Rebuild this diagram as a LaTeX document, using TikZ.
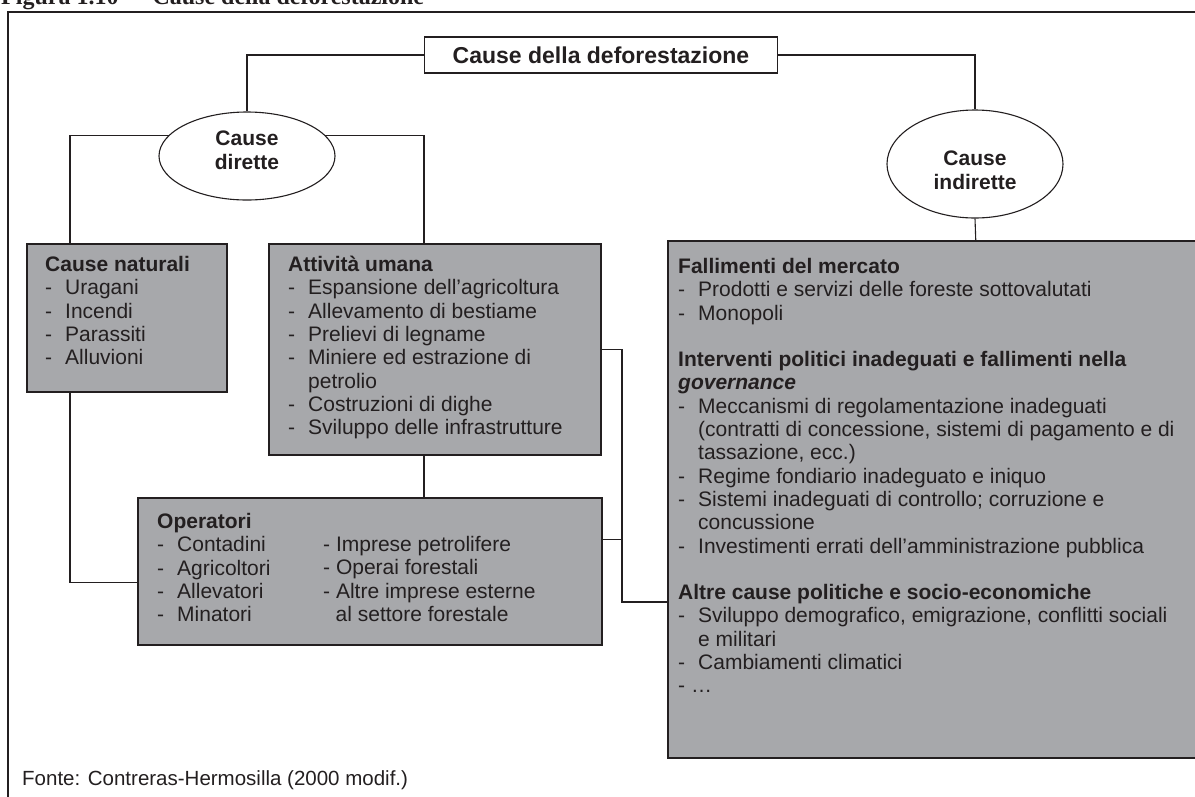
\documentclass[tikz,border=0pt]{standalone}
\usepackage{fontspec}
\setmainfont{Liberation Sans}
\newfontfamily\capfont{Liberation Serif}
\usetikzlibrary{shapes,calc}
\definecolor{boxgray}{HTML}{A7A8AB}
\definecolor{ink}{HTML}{231F20}
\newcommand{\dsh}{\makebox[20pt][l]{-}}
\newcommand{\cont}{\hspace*{20pt}}

\begin{document}
\begin{tikzpicture}[x=1pt,y=-1pt,
	box/.style={draw=ink, line width=1.5pt, fill=boxgray, anchor=north west, inner sep=0pt},
	oval/.style={ellipse, draw=ink, line width=1.1pt, fill=white, inner sep=0pt, align=center, text=ink, font=\fontsize{21}{24}\selectfont\bfseries},
	txt/.style={anchor=north west, align=left, inner sep=0pt, text=ink, font=\fontsize{21}{23.3}\selectfont},
	link/.style={draw=ink, line width=1.1pt}]
	\useasboundingbox (0,0) rectangle (1195,796);
	% page heading, cut by the top edge
	\node[anchor=base west, inner sep=0pt, text=ink, font=\capfont\bfseries\fontsize{24}{26}\selectfont] (fig) at (1,4) {Figura 1.10\hspace{16pt}– Cause della deforestazione};
	\draw[ink, line width=1.1pt] (8,12) rectangle (1230,830);

	\node[box, fill=white, anchor=center, minimum width=353pt, minimum height=36pt, text=ink, font=\fontsize{23}{26}\selectfont\bfseries] (cause) at (601,55) {Cause della deforestazione};
	\node[oval, minimum width=176pt, minimum height=88pt, text depth=12pt] (dir) at (247,156) {Cause\\dirette};
	\node[oval, minimum width=176pt, minimum height=108pt, text height=52pt] (ind) at (975,164) {Cause\\indirette};

	% grey boxes
	\node[box, minimum width=200pt, minimum height=148pt] (nat) at (26,243) {};
	\node[box, minimum width=332pt, minimum height=211pt] (uma) at (268,243) {};
	\node[box, minimum width=464pt, minimum height=147pt] (ope) at (137,497) {};
	\node[box, minimum width=616pt, minimum height=517pt] (pol) at (667,240) {};

	\node[txt] (natT) at (45,256) {\textbf{Cause naturali}\\ \dsh Uragani\\ \dsh Incendi\\ \dsh Parassiti\\ \dsh Alluvioni};
	\node[txt] (umaT) at (288,256) {\textbf{Attività umana}\\ \dsh Espansione dell’agricoltura\\ \dsh Allevamento di bestiame\\ \dsh Prelievi di legname\\ \dsh Miniere ed estrazione di\\ \cont petrolio\\ \dsh Costruzioni di dighe\\ \dsh Sviluppo delle infrastrutture};
	\node[txt] (opeT) at (157,513) {\textbf{Operatori}\\ \dsh Contadini\\ \dsh Agricoltori\\ \dsh Allevatori\\ \dsh Minatori};
	\node[txt] (opeR) at (323,536) {- Imprese petrolifere\\ - Operai forestali\\ - Altre imprese esterne\\ \hspace*{12.5pt}al settore forestale};
	\node[txt] (polT) at (678,258) {\textbf{Fallimenti del mercato}\\ \dsh Prodotti e servizi delle foreste sottovalutati\\ \dsh Monopoli\\[23.3pt]
		\textbf{Interventi politici inadeguati e fallimenti nella}\\ \textbf{\textit{governance}}\\
		\dsh Meccanismi di regolamentazione inadeguati\\ \cont (contratti di concessione, sistemi di pagamento e di\\ \cont tassazione, ecc.)\\
		\dsh Regime fondiario inadeguato e iniquo\\ \dsh Sistemi inadeguati di controllo; corruzione e\\ \cont concussione\\
		\dsh Investimenti errati dell’amministrazione pubblica\\[23.3pt]
		\textbf{Altre cause politiche e socio-economiche}\\ \dsh Sviluppo demografico, emigrazione, conflitti sociali\\ \cont e militari\\ \dsh Cambiamenti climatici\\ - …};

	% connectors
	\coordinate (jn) at (622,602);
	\draw[link] (cause.west) -| (dir.north);
	\draw[link] (cause.east) -| (ind.north);
	\draw[link] (dir.165) -| ([xshift=44pt]nat.north west);
	\draw[link] (dir.15) -| ([xshift=156pt]uma.north west);
	\draw[link] ([xshift=44pt]nat.south west) |- ([yshift=-11.5pt]ope.west);
	\draw[link] ([xshift=156pt]uma.south west) -- ([xshift=156pt]uma.south west |- ope.north);
	\draw[link] (uma.east) -| (jn) -- (jn -| pol.west);
	\draw[link] ([yshift=31.5pt]ope.east) -- ([yshift=31.5pt]ope.east -| jn);
	\draw[link] (ind.south) -- (pol.north);

	\node[anchor=base west, inner sep=0pt, text=ink, font=\fontsize{20.5}{24}\selectfont] (src) at (22,785) {Fonte: Contreras-Hermosilla (2000 modif.)};
\end{tikzpicture}
\end{document}
